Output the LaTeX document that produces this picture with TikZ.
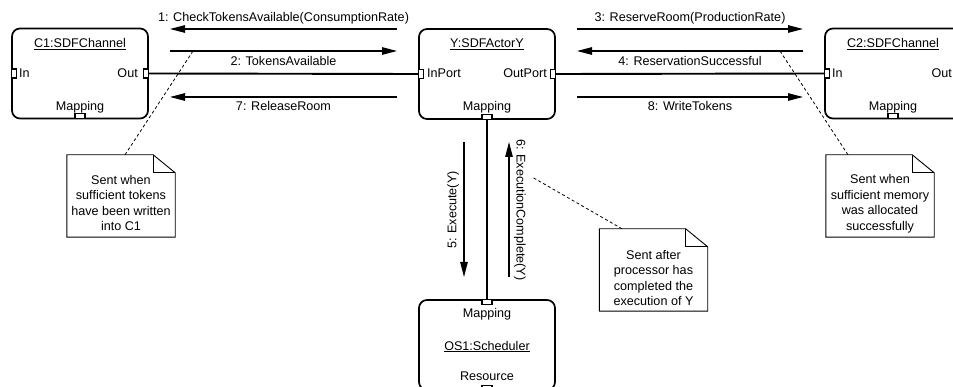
\documentclass[tikz,border=0pt]{standalone}
\usepackage{fontspec}
\setmainfont{Liberation Sans}
\usetikzlibrary{arrows.meta}

% outline of a UML note with a folded top-right corner
\newcommand\noteoutline[1]{%
  \draw[noteline] (#1.north west) -- ([xshift=-22pt]#1.north east)
    -- ([yshift=-18pt]#1.north east) -- (#1.south east) -- (#1.south west) -- cycle;
  \draw[noteline] ([xshift=-22pt]#1.north east) |- ([yshift=-18pt]#1.north east);}

\begin{document}
\begin{tikzpicture}[x=1pt,y=1pt,
  every node/.style={font=\fontsize{12.6}{15.5}\selectfont},
  obj/.style={draw, line width=1.7pt, rounded corners=8pt, minimum width=136pt,
    minimum height=90pt, inner sep=0pt},
  vport/.style={draw, line width=1.1pt, fill=white, minimum width=5pt,
    minimum height=9pt, inner sep=0pt},
  hport/.style={draw, line width=1.1pt, fill=white, minimum width=10pt,
    minimum height=5pt, inner sep=0pt},
  txt/.style={anchor=base, inner sep=0pt},
  link/.style={line width=1.9pt},
  msg/.style={line width=1.1pt, -{Triangle[length=15pt,width=7.5pt]}},
  notebox/.style={minimum width=108pt, minimum height=82pt, inner sep=0pt},
  notetext/.style={align=center, inner sep=0pt},
  noteline/.style={line width=0.9pt, line join=miter},
  leader/.style={line width=0.8pt, dash pattern=on 3pt off 2.5pt},
]
\useasboundingbox (0,0) rectangle (953,-387);
\clip (0,0) rectangle (953,-387);

% ---- objects ----
\node[obj] (c1) at (80,-73.5) {};
\node[obj] (y)  at (487,-74) {};
\node[obj] (c2) at (893,-73.5) {};
\node[obj] (os1) at (487,-345) {};

% ---- ports ----
\node[vport, anchor=west]  (c1in)  at (c1.west) {};
\node[vport, anchor=east]  (c1out) at (c1.east) {};
\node[hport, anchor=south] (c1map) at (c1.south) {};
\node[vport, anchor=west]  (yin)   at (y.west) {};
\node[vport, anchor=east]  (yout)  at (y.east) {};
\node[hport, anchor=south] (ymap)  at (y.south) {};
\node[vport, anchor=west]  (c2in)  at (c2.west) {};
\node[vport, anchor=east]  (c2out) at (c2.east) {};
\node[hport, anchor=south] (c2map) at (c2.south) {};
\node[hport, anchor=north] (os1map) at (os1.north) {};
\node[hport, anchor=south] (os1res) at (os1.south) {};

% ---- object texts ----
\node[txt] (c1title) at (80,-47.5) {\underline{C1:SDFChannel}};
\node[txt, anchor=base west] (c1intxt) at (19,-78) {In};
\node[txt, anchor=base east] (c1outtxt) at (138,-78) {Out};
\node[txt] (c1maptxt) at (80,-110.5) {Mapping};

\node[txt] (ytitle) at (487,-48) {\underline{Y:SDFActorY}};
\node[txt, anchor=base west] (yintxt) at (427,-78) {InPort};
\node[txt, anchor=base east] (youttxt) at (547,-78) {OutPort};
\node[txt] (ymaptxt) at (487,-111) {Mapping};

\node[txt] (c2title) at (893,-47.5) {\underline{C2:SDFChannel}};
\node[txt, anchor=base west] (c2intxt) at (832,-78) {In};
\node[txt, anchor=base east] (c2outtxt) at (952,-78) {Out};
\node[txt] (c2maptxt) at (893,-110.5) {Mapping};

\node[txt] (os1maptxt) at (487,-317) {Mapping};
\node[txt] (os1title) at (487,-350) {\underline{OS1:Scheduler}};
\node[txt] (os1restxt) at (487,-380) {Resource};

% ---- links ----
\draw[link] (c1out.east) -- (yin.west);
\draw[link] (yout.east) -- (c2in.west);
\draw[link] (ymap.south) -- (os1map.north);

% ---- messages ----
\coordinate (m1a) at (397,-29);  \coordinate (m1b) at (170,-29);
\coordinate (m2a) at (170,-51);  \coordinate (m2b) at (397,-51);
\coordinate (m7a) at (397,-97);  \coordinate (m7b) at (170,-97);
\coordinate (m3a) at (577,-29);  \coordinate (m3b) at (803,-29);
\coordinate (m4a) at (803,-51);  \coordinate (m4b) at (577,-51);
\coordinate (m8a) at (577,-97);  \coordinate (m8b) at (803,-97);
\coordinate (m5a) at (464,-142); \coordinate (m5b) at (464,-277);
\coordinate (m6a) at (509,-277); \coordinate (m6b) at (509,-142);

\draw[msg] (m1a) -- (m1b);
\draw[msg] (m2a) -- (m2b);
\draw[msg] (m7a) -- (m7b);
\draw[msg] (m3a) -- (m3b);
\draw[msg] (m4a) -- (m4b);
\draw[msg] (m8a) -- (m8b);
\draw[msg] (m5a) -- (m5b);
\draw[msg] (m6a) -- (m6b);

\node[txt] (l1) at (283.5,-22) {1: CheckTokensAvailable(ConsumptionRate)};
\node[txt] (l2) at (283.5,-66) {2: TokensAvailable};
\node[txt] (l7) at (283.5,-111) {7: ReleaseRoom};
\node[txt] (l3) at (690,-22) {3: ReserveRoom(ProductionRate)};
\node[txt] (l4) at (690,-66) {4: ReservationSuccessful};
\node[txt] (l8) at (690,-111) {8: WriteTokens};
\node[inner sep=0pt, rotate=90]  (l5) at (453,-210) {5: Execute(Y)};
\node[inner sep=0pt, rotate=-90] (l6) at (520,-210) {6: ExecutionComplete(Y)};

% ---- notes ----
\node[notebox] (n1) at (121,-196) {};
\noteoutline{n1}
\node[notetext] (n1t) at (121,-203) {Sent when\\sufficient tokens\\have been written\\into C1};

\node[notebox] (n2) at (653.5,-270) {};
\noteoutline{n2}
\node[notetext] (n2t) at (653.5,-278) {Sent after\\processor has\\completed the\\execution of Y};

\node[notebox] (n3) at (880,-196) {};
\noteoutline{n3}
\node[notetext] (n3t) at (880,-203.5) {Sent when\\sufficient memory\\was allocated\\successfully};

% ---- note anchors on the messages ----
\coordinate (d1) at (193,-51);
\coordinate (d2) at (532,-177);
\coordinate (d3) at (780,-51);
\draw[leader] ([xshift=4pt]n1.north) -- (d1);
\draw[leader] ([xshift=-31.5pt]n2.north) -- (d2);
\draw[leader] ([xshift=-32pt]n3.north) -- (d3);
\end{tikzpicture}
\end{document}
